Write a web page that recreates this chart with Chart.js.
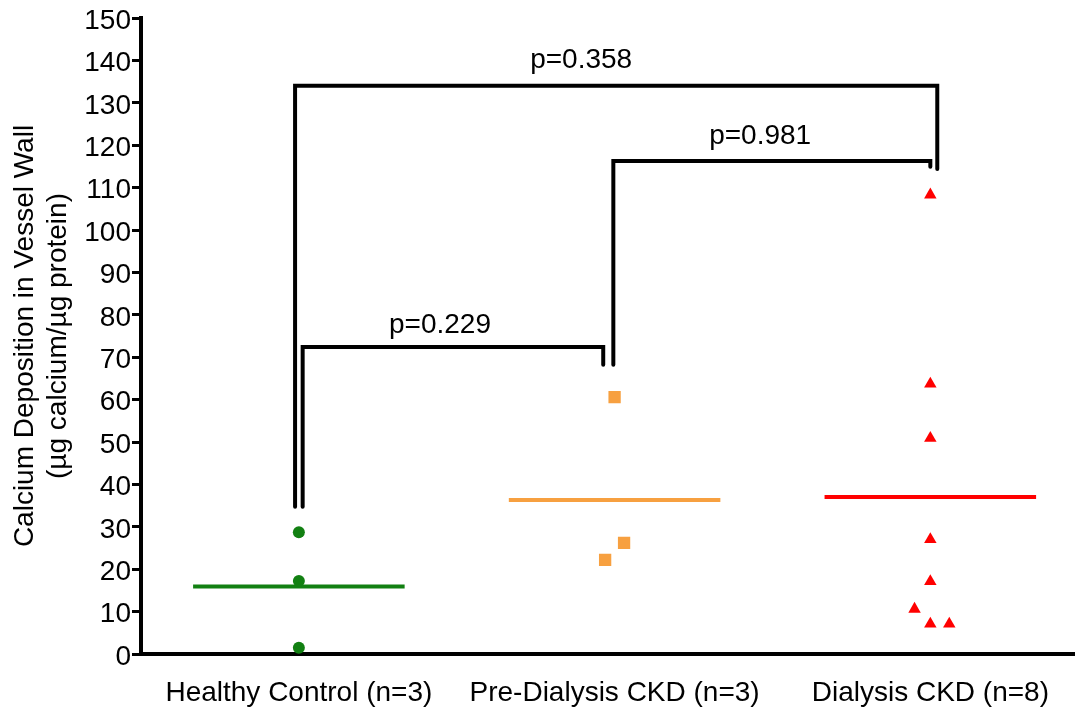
<!DOCTYPE html>
<html>
<head>
<meta charset="utf-8">
<script src="https://cdn.jsdelivr.net/npm/chart.js@4"></script>
<style>
  html, body { margin: 0; padding: 0; background: #fff; }
  #chart { display: block; }
</style>
</head>
<body>
<canvas id="chart" width="1083" height="710"></canvas>
<script>
const categories = ["Healthy Control (n=3)", "Pre-Dialysis CKD (n=3)", "Dialysis CKD (n=8)"];
const yTicks = [0, 10, 20, 30, 40, 50, 60, 70, 80, 90, 100, 110, 120, 130, 140, 150];

// individual values, with the small sideways jitter used in the figure
const healthyValues = [28.7, 17.2, 1.5];
const healthyX = [1.0, 1.0, 1.0];
const preDialysisValues = [60.6, 26.2, 22.2];
const preDialysisX = [2.0, 2.03, 1.97];
const dialysisValues = [108.3, 63.7, 50.9, 27.0, 17.1, 10.6, 7.1, 7.1];
const dialysisX = [3.0, 3.0, 3.0, 3.0, 3.0, 2.95, 3.0, 3.06];
const groupMeans = [15.9, 36.3, 37.0];

// comparison brackets (x in category units, y in data units)
const pValues = ["p=0.229", "p=0.981", "p=0.358"];
const bracketLeftX = [1.012, 1.996, 0.988];
const bracketRightX = [1.964, 3.0, 3.022];
const bracketTop = [72.4, 116.3, 134.0];
const bracketLeftEnd = [34.7, 68.2, 34.7];
const bracketRightEnd = [68.2, 114.9, 114.4];
const pLabelX = [1.447, 2.461, 1.894];
const pLabelY = [77.6, 122.2, 140.1];

const FONT = '"Liberation Sans", Arial, Helvetica, sans-serif';
const GREEN = "#128012";
const ORANGE = "#F7A040";
const RED = "#FF0000";
const meanHalf = 0.335;

Chart.defaults.font.family = FONT;
Chart.defaults.color = "#000";

const points = (xs, ys) => ys.map((v, i) => ({ x: xs[i], y: v }));

function meanLine(i, color) {
  return {
    data: [{ x: i + 1 - meanHalf, y: groupMeans[i] }, { x: i + 1 + meanHalf, y: groupMeans[i] }],
    showLine: true, borderColor: color, borderWidth: 4, pointRadius: 0, borderCapStyle: "butt"
  };
}

function bracket(i) {
  return {
    data: [
      { x: bracketLeftX[i], y: bracketLeftEnd[i] },
      { x: bracketLeftX[i], y: bracketTop[i] },
      { x: bracketRightX[i], y: bracketTop[i] },
      { x: bracketRightX[i], y: bracketRightEnd[i] }
    ],
    showLine: true, borderColor: "#000", borderWidth: 4, pointRadius: 0,
    borderCapStyle: "round", borderJoinStyle: "miter", tension: 0
  };
}

const pLabels = {
  id: "pLabels",
  afterDatasetsDraw(chart) {
    const { ctx, scales: { x, y } } = chart;
    ctx.save();
    ctx.font = "28px " + FONT;
    ctx.fillStyle = "#000";
    ctx.textAlign = "center";
    ctx.textBaseline = "middle";
    pValues.forEach((t, i) => {
      ctx.fillText(t, x.getPixelForValue(pLabelX[i]), y.getPixelForValue(pLabelY[i]));
    });
    ctx.restore();
  }
};

new Chart(document.getElementById("chart"), {
  type: "scatter",
  data: {
    datasets: [
      { data: points(healthyX, healthyValues), pointStyle: "circle", pointRadius: 6,
        backgroundColor: GREEN, borderWidth: 0 },
      { data: points(preDialysisX, preDialysisValues), pointStyle: "rect", pointRadius: 8.7,
        backgroundColor: ORANGE, borderWidth: 0 },
      { data: points(dialysisX, dialysisValues), pointStyle: "triangle", pointRadius: 7.2,
        backgroundColor: RED, borderWidth: 0 },
      meanLine(0, GREEN),
      meanLine(1, ORANGE),
      meanLine(2, RED),
      bracket(0),
      bracket(1),
      bracket(2)
    ]
  },
  options: {
    responsive: false,
    animation: false,
    layout: { padding: { top: 18, right: 0, left: 0, bottom: 0 } },
    plugins: { legend: { display: false }, tooltip: { enabled: false } },
    scales: {
      x: {
        type: "linear", min: 0.5, max: 3.456,
        afterBuildTicks: (axis) => { axis.ticks = categories.map((c, i) => ({ value: i + 1 })); },
        afterFit: (axis) => { axis.height = 56; },
        ticks: {
          callback: (v) => categories[v - 1],
          autoSkip: false, maxRotation: 0, padding: 22,
          font: { size: 28 }, color: "#000"
        },
        grid: { display: false, drawTicks: false },
        border: { display: true, color: "#000", width: 4 }
      },
      y: {
        min: 0, max: 150,
        afterBuildTicks: (axis) => { axis.ticks = yTicks.map(v => ({ value: v })); },
        afterFit: (axis) => { axis.width = 141; },
        ticks: { padding: 1, labelOffset: 3, font: { size: 28 }, color: "#000" },
        grid: { drawOnChartArea: false, drawTicks: true, tickLength: 9, tickWidth: 3, tickColor: "#000" },
        border: { display: true, color: "#000", width: 4 },
        title: {
          display: true,
          text: ["Calcium Deposition in Vessel Wall", "(\u00b5g calcium/\u00b5g protein)"],
          font: { size: 28, lineHeight: 1.2 },
          padding: { top: 8, bottom: 0 },
          color: "#000"
        }
      }
    }
  },
  plugins: [pLabels]
});
</script>
</body>
</html>
